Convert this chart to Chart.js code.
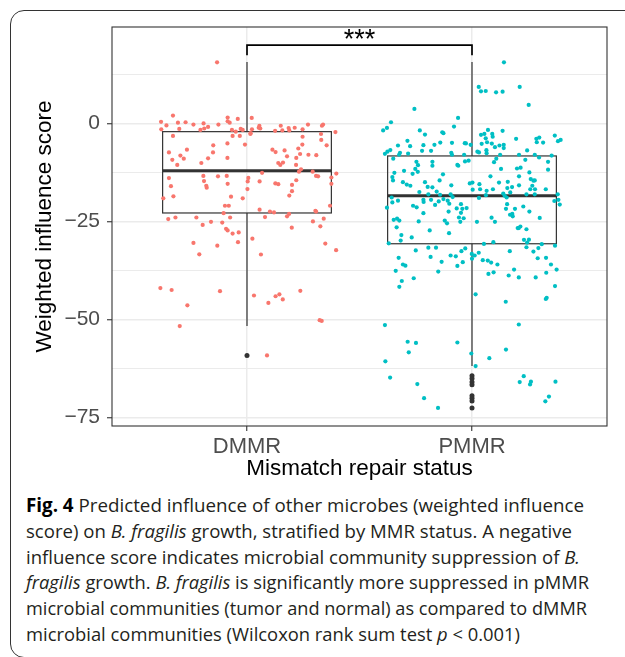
<!DOCTYPE html>
<html><head><meta charset="utf-8">
<script src="https://cdn.jsdelivr.net/npm/chart.js@4/dist/chart.umd.min.js"></script>
<style>
html,body{margin:0;padding:0;background:#fff;width:625px;height:657px;overflow:hidden;}
#card{position:absolute;left:10px;top:10px;width:700px;height:648px;border:1.5px solid #333;border-radius:14px;box-sizing:border-box;}
#wrap{position:absolute;left:0;top:0;width:625px;height:490px;}
.cap{position:absolute;left:26px;white-space:nowrap;font-family:'Open Sans';font-size:18.7px;color:#231f20;transform-origin:0 0;line-height:1.2;}
.cap b{color:#000;}
.bl{display:inline-block;width:0;height:0;vertical-align:baseline;}
</style></head>
<body>
<div id="card"></div>
<div id="wrap"><canvas id="c" width="625" height="490"></canvas></div>
<div id="caption">
<div class="cap"><b>Fig. 4</b> Predicted influence of other microbes (weighted influence<span class="bl"></span></div>
<div class="cap">score) on <i>B. fragilis</i> growth, stratified by MMR status. A negative<span class="bl"></span></div>
<div class="cap">influence score indicates microbial community suppression of <i>B.</i><span class="bl"></span></div>
<div class="cap"><i>fragilis</i> growth. <i>B. fragilis</i> is significantly more suppressed in pMMR<span class="bl"></span></div>
<div class="cap">microbial communities (tumor and normal) as compared to dMMR<span class="bl"></span></div>
<div class="cap">microbial communities (Wilcoxon rank sum test <i>p</i> &lt; 0.001)<span class="bl"></span></div>
</div>
<script>
// ---------- data ----------
const categories = ['DMMR', 'PMMR'];
const yMajorTicks = [-75, -50, -25, 0];
const yMinorTicks = [-62.5, -37.5, -12.5, 12.5];
const yRange = [-77.2, 24.6];

// box statistics per category
const boxQ1 = [-22.85, -30.7];
const boxMedian = [-12.1, -18.45];
const boxQ3 = [-2.1, -8.3];
const whiskerLow = [-51.7, -61.9];
const whiskerHigh = [15.65, 15.65];

// outliers (category index 1-based, score)
const outlierGroup = [1, 2, 2, 2, 2, 2, 2, 2, 2];
const outlierScore = [-59.2, -64.4, -65.1, -66.0, -66.7, -69.5, -70.1, -70.8, -72.6];

// significance annotation
const sigLabel = '***';
const sigBracketY = 20;
const sigTipY = 17.4;

// jittered observations: horizontal jitter (category units) and score
const dmmrJitter = [
 -0.133,-0.329,-0.382,-0.358,-0.307,-0.273,-0.238,-0.193,-0.173,-0.207,-0.190,-0.301,-0.381,-0.127,-0.086,-0.086,-0.077,-0.041,0.021,-0.067,
 -0.050,-0.028,-0.019,0.022,0.015,0.055,0.059,0.052,0.125,0.150,0.157,0.185,0.188,0.212,0.247,0.271,0.333,0.338,0.393,0.329,
 -0.329,-0.347,-0.332,-0.296,-0.281,-0.267,-0.310,-0.203,-0.173,-0.151,-0.150,-0.087,-0.087,-0.064,-0.032,-0.009,0.016,0.113,0.127,0.167,
 0.178,0.139,0.148,0.160,0.228,0.246,0.247,0.219,0.236,0.218,0.273,0.308,0.330,0.354,
 -0.347,-0.338,-0.327,-0.372,-0.194,-0.191,-0.181,-0.179,-0.129,-0.090,-0.086,-0.071,-0.098,-0.081,-0.104,-0.019,0.002,0.003,0.006,0.056,
 0.067,0.126,0.139,0.188,0.200,0.200,0.219,0.231,0.240,0.292,0.307,0.316,0.375,0.375,0.397,0.369,0.304,0.307,0.056,0.102,
 0.120,0.187,0.178,0.080,
 -0.350,-0.318,-0.225,-0.197,-0.160,-0.110,-0.075,-0.093,0.199,0.293,0.341,0.326,-0.086,-0.064,-0.037,-0.238,-0.132,-0.212,-0.040,0.024,
 0.062,0.348,0.396,
 -0.385,-0.335,-0.120,-0.265,-0.299,0.031,0.095,0.127,0.144,0.159,0.237,0.323,0.332,0.089
];
const dmmrScore = [
 15.6,2.0,0.4,-0.5,0.2,0.3,-0.3,0.0,-0.9,-1.65,-1.3,-1.4,-1.5,-0.3,1.5,0.55,0.2,1.15,1.4,-1.65,
 -2.1,-1.4,-1.65,-1.5,-2.7,-0.6,-1.3,-1.1,-1.9,-0.6,-1.8,-1.2,-1.8,-1.1,-1.5,-0.3,-0.6,-0.3,-2.2,-2.7,
 -3.2,-7.4,-9.3,-8.2,-9.0,-6.7,-10.6,-10.1,-8.9,-7.4,-5.6,-5.1,-8.8,-3.2,-3.2,-5.4,-2.5,-6.7,-7.3,-6.9,
 -8.4,-10.1,-10.6,-10.0,-6.4,-5.4,-3.4,-8.8,-7.8,-10.6,-8.0,-8.1,-4.2,-5.6,
 -13.95,-16.0,-18.6,-19.1,-13.4,-14.7,-15.9,-16.4,-13.5,-13.4,-15.4,-18.7,-21.0,-21.0,-22.9,-19.1,-16.75,-14.8,-13.9,-14.8,
 -12.6,-15.3,-15.5,-18.4,-17.3,-15.7,-14.5,-12.3,-11.7,-12.3,-13.4,-13.5,-13.8,-15.4,-12.8,-21.0,-22.3,-22.5,-22.0,-22.5,
 -22.7,-23.1,-23.7,-23.9,
 -24.4,-24.0,-24.0,-25.9,-25.1,-25.3,-24.0,-26.9,-26.6,-25.0,-24.3,-26.25,-27.3,-28.1,-27.8,-30.5,-31.2,-33.4,-30.3,-29.4,
 -33.45,-30.65,-32.35,
 -42.0,-42.5,-42.8,-46.4,-51.7,-43.9,-45.8,-44.1,-43.6,-44.9,-42.7,-50.2,-50.4,-59.2
];
const pmmrJitter = [
 0.142,0.030,0.040,0.061,0.107,0.136,0.212,0.252,-0.256,-0.062,-0.360,-0.378,-0.395,-0.080,-0.232,-0.209,-0.132,-0.127,-0.287,-0.329,
 -0.275,-0.216,-0.167,-0.141,-0.089,-0.032,-0.027,-0.006,-0.363,-0.376,-0.387,-0.320,-0.324,-0.284,-0.222,-0.182,-0.092,-0.089,-0.035,0.024,
 0.031,0.040,0.055,0.071,0.090,0.092,0.061,0.043,0.067,0.064,0.065,0.088,0.102,0.122,0.136,0.141,0.141,0.125,0.196,0.209,
 0.245,0.286,0.299,0.288,0.316,0.368,0.382,0.394,0.279,0.354,-0.350,-0.247,-0.176,-0.031,-0.015,-0.065,0.098,0.108,0.237,0.298,
 0.338,
 -0.240,-0.252,-0.241,-0.264,-0.176,-0.061,-0.302,-0.345,-0.354,-0.351,-0.307,-0.290,-0.274,-0.209,-0.197,-0.176,-0.129,-0.144,-0.092,-0.157,
 -0.234,-0.010,0.002,0.003,0.033,0.036,0.065,0.093,0.082,0.129,0.120,0.159,0.157,0.178,0.170,0.209,0.216,0.200,0.255,0.261,
 0.273,0.279,0.268,0.259,0.280,0.338,0.328,0.209,-0.357,-0.194,-0.142,-0.095,-0.086,0.031,0.062,0.139,0.145,0.242,0.279,0.381,
 0.384,0.366,0.390,-0.378,-0.354,-0.329,-0.262,-0.246,-0.216,-0.215,-0.182,-0.164,-0.148,-0.127,-0.108,-0.101,-0.068,-0.049,-0.043,-0.024,
 -0.104,-0.216,-0.049,-0.058,-0.037,-0.121,-0.111,-0.052,-0.237,-0.348,-0.333,-0.323,-0.335,-0.314,-0.317,-0.268,-0.188,-0.102,0.022,0.087,
 0.102,0.156,0.154,0.151,0.191,0.169,0.179,0.181,0.228,0.255,0.301,0.208,0.203,0.215,0.242,0.231,0.253,0.245,0.310,0.369,
 -0.370,0.053,0.095,-0.194,-0.160,0.242,0.295,
 -0.250,-0.326,-0.307,-0.296,-0.339,-0.312,-0.323,-0.259,-0.184,-0.135,-0.150,-0.095,-0.072,-0.065,-0.041,-0.047,-0.030,-0.001,0.012,0.000,
 0.030,0.048,0.070,0.085,0.113,0.073,0.096,0.016,0.168,0.187,0.163,0.208,0.273,0.292,0.329,0.351,0.376,0.330,0.283,0.369,
 0.332,0.328,0.150,-0.387,0.208,-0.286,-0.249,-0.065,-0.281,0.151,-0.385,-0.003,0.077,0.016,-0.364,-0.243,-0.213,-0.151,0.230,0.212,
 0.262,0.258,0.371,0.342,0.326
];
const pmmrScore = [
 15.6,9.3,8.2,8.27,7.93,8.1,9.3,4.71,3.7,1.4,0.3,-1.15,-1.8,-0.8,-1.8,-2.84,-2.25,-2.5,-4.45,-5.64,
 -5.8,-5.55,-5.47,-4.9,-4.96,-5.05,-5.1,-5.47,-6.8,-7.2,-7.76,-7.5,-8.0,-7.7,-7.0,-7.0,-7.5,-8.0,-8.0,-7.2,
 -7.4,-2.9,-2.67,-1.65,-2.67,-3.4,-3.8,-5.2,-4.8,-6.83,-7.6,-5.13,-6.06,-5.64,-1.9,-5.47,-6.3,-8.0,-3.94,-8.0,
 -6.9,-3.94,-3.6,-4.8,-4.9,-3.1,-4.54,-4.2,-8.0,-8.2,-9.0,-9.8,-9.8,-9.7,-9.5,-10.6,-9.9,-9.0,-9.3,-8.7,
 -9.8,
 -10.65,-11.6,-12.35,-12.85,-10.8,-10.8,-12.1,-12.6,-13.7,-14.55,-15.0,-15.6,-15.9,-15.0,-16.2,-16.3,-13.0,-14.55,-15.8,-17.4,
 -17.5,-15.3,-15.1,-16.9,-15.5,-16.8,-17.2,-16.8,-13.5,-11.6,-15.1,-14.9,-16.5,-16.25,-17.6,-13.5,-11.3,-11.5,-12.5,-14.2,
 -14.6,-14.55,-15.9,-16.8,-16.8,-11.8,-16.8,-15.8,-18.9,-18.1,-18.2,-18.1,-18.8,-19.0,-18.3,-17.9,-18.45,-18.1,-18.1,-18.1,
 -19.5,-19.8,-20.7,-21.5,-20.15,-19.7,-21.0,-21.4,-19.5,-20.05,-19.5,-20.8,-19.9,-19.3,-19.7,-20.5,-21.7,-20.6,-21.8,-21.6,
 -22.5,-22.9,-22.8,-24.0,-24.2,-24.8,-25.5,-25.1,-25.0,-24.6,-24.3,-24.8,-26.5,-28.5,-29.9,-29.1,-27.3,-28.0,-25.1,-24.05,
 -25.1,-20.6,-18.9,-21.8,-21.8,-23.3,-23.1,-23.7,-21.2,-22.5,-24.1,-26.7,-26.7,-26.3,-27.0,-29.7,-29.65,-30.4,-30.8,-31.2,
 -30.6,-30.75,-30.3,-31.7,-31.7,-31.6,-31.8,
 -32.4,-34.3,-36.0,-36.3,-37.6,-40.2,-41.7,-39.5,-34.05,-35.3,-37.8,-33.7,-33.9,-36.35,-35.4,-32.6,-31.9,-33.3,-33.7,-34.5,
 -33.0,-34.9,-35.0,-35.5,-36.0,-38.4,-38.0,-43.6,-32.6,-37.3,-38.8,-39.3,-32.7,-34.4,-34.3,-36.0,-37.3,-38.1,-39.3,-41.5,
 -44.5,-44.8,-45.5,-51.45,-51.3,-55.7,-56.0,-55.9,-58.4,-57.7,-60.7,-58.7,-59.9,-61.9,-64.85,-66.5,-70.1,-72.6,-64.5,-66.0,
 -65.9,-66.6,-65.9,-69.7,-70.9
];

// ---------- styles ----------
const colDMMR = '#F8766D', colPMMR = '#00BFC4', colDark = '#333333';
const BOX_WIDTH = 0.75;
const axisFont = 'Liberation Sans, Arial, Helvetica, sans-serif';

const toPts = (jit, sc, g) => sc.map((v, i) => ({x: g + jit[i], y: v}));

const boxPlugin = {
  id: 'ggbox',
  beforeDatasetsDraw(chart) {
    const {ctx, scales: {x, y}} = chart;
    ctx.save();
    ctx.strokeStyle = colDark;
    categories.forEach((c, i) => {
      const g = i + 1;
      const cx = x.getPixelForValue(g);
      const l = x.getPixelForValue(g - BOX_WIDTH / 2);
      const r = x.getPixelForValue(g + BOX_WIDTH / 2);
      const yq1 = y.getPixelForValue(boxQ1[i]);
      const yq3 = y.getPixelForValue(boxQ3[i]);
      const ym = y.getPixelForValue(boxMedian[i]);
      ctx.lineWidth = 1.2;
      ctx.beginPath();
      ctx.moveTo(cx, y.getPixelForValue(whiskerHigh[i])); ctx.lineTo(cx, yq3);
      ctx.moveTo(cx, yq1); ctx.lineTo(cx, y.getPixelForValue(whiskerLow[i]));
      ctx.stroke();
      ctx.strokeRect(l, yq3, r - l, yq1 - yq3);
      ctx.lineWidth = 3;
      ctx.beginPath(); ctx.moveTo(l, ym); ctx.lineTo(r, ym); ctx.stroke();
    });
    ctx.restore();
  },
  afterDatasetsDraw(chart) {
    const {ctx, chartArea: a, scales: {x, y}} = chart;
    ctx.save();
    ctx.strokeStyle = colDark; ctx.lineWidth = 1.1;
    ctx.strokeRect(a.left, a.top, a.right - a.left, a.bottom - a.top);
    // significance bracket
    const x1 = x.getPixelForValue(1), x2 = x.getPixelForValue(2);
    const yb = y.getPixelForValue(sigBracketY), yt = y.getPixelForValue(sigTipY);
    ctx.strokeStyle = '#000'; ctx.lineWidth = 1.7;
    ctx.beginPath();
    ctx.moveTo(x1, yt); ctx.lineTo(x1, yb); ctx.lineTo(x2, yb); ctx.lineTo(x2, yt);
    ctx.stroke();
    ctx.fillStyle = '#000';
    ctx.font = '27px ' + axisFont;
    ctx.textAlign = 'center'; ctx.textBaseline = 'alphabetic';
    ctx.fillText(sigLabel, (x1 + x2) / 2, yb + 3);
    ctx.restore();
  }
};

const isMajor = v => yMajorTicks.includes(v);
const fmt = v => (v < 0 ? '\u2212' + Math.abs(v) : String(v));

new Chart(document.getElementById('c'), {
  type: 'scatter',
  data: {
    datasets: [
      {label: categories[0], data: toPts(dmmrJitter, dmmrScore, 1), backgroundColor: colDMMR, pointRadius: 2.1, borderWidth: 0, order: 2},
      {label: categories[1], data: toPts(pmmrJitter, pmmrScore, 2), backgroundColor: colPMMR, pointRadius: 2.1, borderWidth: 0, order: 1},
      {label: 'outliers', data: outlierScore.map((v, i) => ({x: outlierGroup[i], y: v})), backgroundColor: colDark, pointRadius: 2.5, borderWidth: 0, order: 3}
    ]
  },
  options: {
    responsive: false, animation: false, events: [],
    layout: {padding: {top: 27, right: 18, left: 0, bottom: 0}},
    plugins: {legend: {display: false}, tooltip: {enabled: false}},
    scales: {
      x: {
        type: 'linear', min: 0.4, max: 2.6,
        afterBuildTicks: s => { s.ticks = categories.map((c, i) => ({value: i + 1})); },
        afterFit: s => { s.height = 64; },
        ticks: {callback: v => categories[Math.round(v) - 1] || '', color: '#4d4d4d', font: {family: axisFont, size: 22}, padding: 3, autoSkip: false, maxRotation: 0},
        grid: {color: '#ebebeb', lineWidth: 1.5, tickColor: colDark, tickLength: 5, tickWidth: 1.1},
        border: {display: false},
        title: {display: true, text: 'Mismatch repair status', color: '#000', font: {family: axisFont, size: 22.5}, padding: {top: 0, bottom: 8}}
      },
      y: {
        min: yRange[0], max: yRange[1],
        afterBuildTicks: s => { s.ticks = yMajorTicks.concat(yMinorTicks).sort((a, b) => a - b).map(v => ({value: v})); },
        afterFit: s => { s.width = 112; },
        ticks: {callback: v => isMajor(v) ? fmt(v) : '', color: '#4d4d4d', font: {family: axisFont, size: 21}, padding: 7, autoSkip: false},
        grid: {
          color: '#ebebeb',
          lineWidth: c => (c.tick && isMajor(c.tick.value)) ? 1.5 : 1,
          tickColor: c => (c.tick && isMajor(c.tick.value)) ? colDark : 'rgba(0,0,0,0)',
          tickLength: 5, tickWidth: 1.1
        },
        border: {display: false},
        title: {display: true, text: 'Weighted influence score', color: '#000', font: {family: axisFont, size: 22.5}, padding: {top: 31.5, bottom: 0}}
      }
    }
  },
  plugins: [boxPlugin]
});

// ---------- caption layout ----------
const capEnds = [584, 572, 580, 589, 587, 520];
const capBaseline0 = 512, capStep = 25.8;
function layoutCaption() {
  document.querySelectorAll('.cap').forEach((el, i) => {
    el.style.transform = 'none'; el.style.top = '0px';
    const w = el.getBoundingClientRect().width;
    const bl = el.querySelector('.bl').offsetTop;
    const target = capEnds[i] - 26;
    el.style.top = (capBaseline0 + i * capStep - bl) + 'px';
    el.style.transform = 'scaleX(' + (target / w) + ')';
  });
}
layoutCaption();
if (document.fonts && document.fonts.ready) document.fonts.ready.then(layoutCaption);
</script>
</body></html>
